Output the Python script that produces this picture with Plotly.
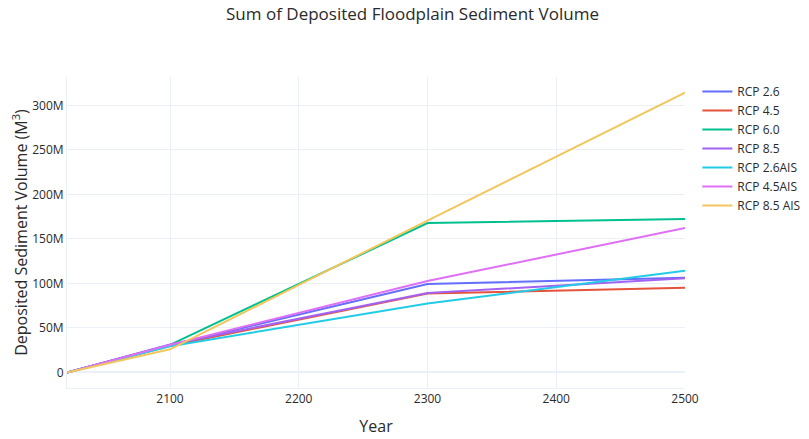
import plotly.graph_objects as go

# years with model output
years = [2020, 2100, 2300, 2500]

# cumulative deposited floodplain sediment volume (m3)
rcp26 = [0, 30.5e6, 99.4e6, 106.3e6]
rcp45 = [0, 30.0e6, 88.6e6, 95.3e6]
rcp60 = [0, 31.0e6, 167.8e6, 172.3e6]
rcp85 = [0, 31.5e6, 89.3e6, 105.8e6]
rcp26_ais = [0, 29.5e6, 77.4e6, 114.3e6]
rcp45_ais = [0, 31.0e6, 102.8e6, 162.2e6]
rcp85_ais = [0, 26.0e6, 170.7e6, 314.5e6]

names = ["RCP 2.6", "RCP 4.5", "RCP 6.0", "RCP 8.5", "RCP 2.6AIS", "RCP 4.5AIS", "RCP 8.5 AIS"]
series = [rcp26, rcp45, rcp60, rcp85, rcp26_ais, rcp45_ais, rcp85_ais]
colors = ["#636efa", "#e5533b", "#00c08f", "#a262f2", "#22cbe6", "#df6ff5", "#f2c65c"]

fig = go.Figure()
for name, vals, col in zip(names, series, colors):
    fig.add_trace(go.Scatter(x=years, y=vals, mode="lines", name=name,
                             line=dict(color=col, width=2)))

grid = "#ebf0f8"
fig.update_layout(
    template="plotly_white",
    width=809, height=439,
    font=dict(family="Open Sans, sans-serif", color="#2a2a2a"),
    title=dict(text="Sum of Deposited Floodplain Sediment Volume", x=0.5, xanchor="center",
               y=1, yanchor="top", yref="container", pad=dict(t=0),
               font=dict(size=17)),
    margin=dict(l=59, r=119, t=69, b=59),
    legend=dict(font=dict(size=12), y=1.0),
    showlegend=True,
)
fig.update_xaxes(title=dict(text="Year", font=dict(size=16), standoff=14), gridcolor=grid,
                 showline=True, linecolor=grid, tickfont=dict(size=12), automargin=False)
fig.update_yaxes(title=dict(text="Deposited Sediment Volume (M<sup>3</sup>)", font=dict(size=16), standoff=6),
                 gridcolor=grid, zerolinecolor=grid, zerolinewidth=2,
                 showline=True, linecolor=grid, tickfont=dict(size=12), automargin=False)

fig.write_html("out.html")
